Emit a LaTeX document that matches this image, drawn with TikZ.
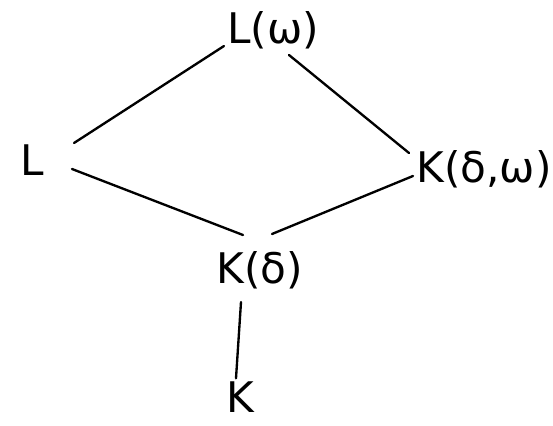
\documentclass[tikz,border=0pt]{standalone}
\usepackage{fontspec}
\setmainfont{DejaVu Sans}
\usepackage{tikz}
\usetikzlibrary{positioning, calc}

\begin{document}
\begin{tikzpicture}[
  field/.style={inner sep=2pt, font=\fontsize{36}{42}\selectfont},
  ext/.style={line width=2pt, line cap=round}
]
  \useasboundingbox (0,0) rectangle (16.59,12.75);

  \node[field] (Lw) at (8.19, 11.85) {L(ω)};
  \node[field] (L) at (0.96, 7.95) {L};
  \node[field] (Kdw) at (14.52, 7.68) {K(δ,ω)};
  \node[field] (Kd) at (7.8, 4.65) {K(δ)};
  \node[field] (K) at (7.2, 0.85) {K};

  \draw[ext] ($(Lw)+(-1.47,-0.48)$) -- ($(L)+(1.26,0.51)$);
  \draw[ext] ($(Lw)+(0.48,-0.75)$) -- ($(Kdw)+(-2.25,0.48)$);
  \draw[ext] ($(L)+(1.2,-0.27)$) -- ($(Kd)+(-0.51,1.05)$);
  \draw[ext] ($(Kdw)+(-2.13,-0.21)$) -- ($(Kd)+(0.36,1.08)$);
  \draw[ext] ($(Kd)+(-0.57,-0.96)$) -- ($(K)+(-0.12,0.55)$);
\end{tikzpicture}
\end{document}
